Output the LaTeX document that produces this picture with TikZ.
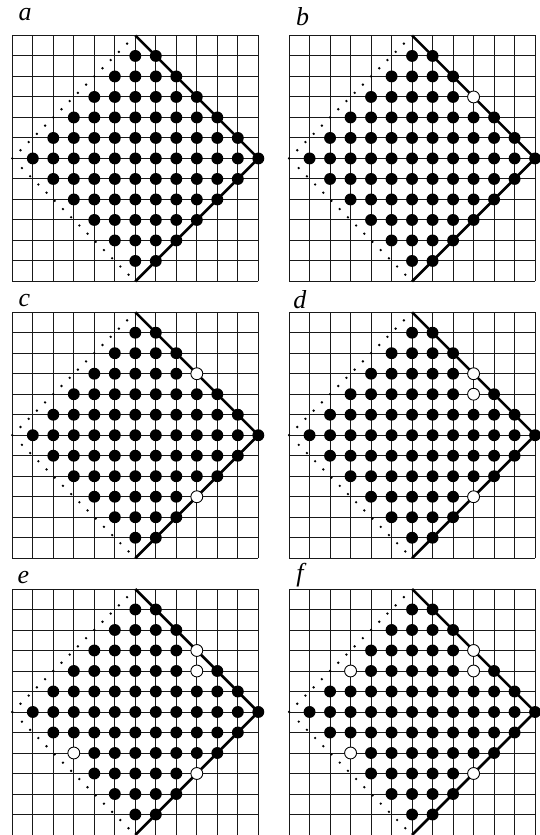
\documentclass[tikz,border=0pt]{standalone}
\usepackage{fontspec}
\setmainfont{Liberation Serif}
\begin{document}
\begin{tikzpicture}[
  x=0.5cm,y=0.5cm,
  gridline/.style={draw=black!90,line width=0.65pt},
  edge/.style={draw=black,line width=1.8pt},
  hole/.style={draw=black,fill=white,line width=0.6pt},
  lab/.style={font=\fontsize{18}{20}\selectfont\itshape,anchor=base west,inner sep=0pt},
  lattice/.pic={
    \draw[gridline,step=1] (0,0) grid (12,12);
    \foreach \k in {1,...,14}
      \fill (6-0.4*\k,12-0.4*\k) circle (0.032cm)
            (0.4*\k+0.07,5.93-0.4*\k) circle (0.032cm);
    \fill (0,6) circle (0.032cm);
    \draw[edge] (6,12) -- (12,6) -- (6,0);
    \foreach \y in {1,...,11} {
      \pgfmathtruncatemacro\lo{1+abs(\y-6)}
      \pgfmathtruncatemacro\hi{12-abs(\y-6)}
      \foreach \x in {\lo,...,\hi}
        \fill (\x,\y) circle (0.145cm);
    }
  },
]
\useasboundingbox (0,0) rectangle (26.34,40.73);

% top row
\begin{scope}[shift={(0.6,27)}]
  \pic {lattice};
  \node[lab] (la) at (0.29,12.73) {a};
\end{scope}
\begin{scope}[shift={(14.1,27)}]
  \pic {lattice};
  \node[lab] (lb) at (0.33,12.47) {b};
  \filldraw[hole] (9,9) circle (0.145cm);
\end{scope}

% middle row
\begin{scope}[shift={(0.6,13.5)}]
  \pic {lattice};
  \node[lab] (lc) at (0.29,12.29) {c};
  \filldraw[hole] (9,9) circle (0.145cm) (9,3) circle (0.145cm);
\end{scope}
\begin{scope}[shift={(14.1,13.5)}]
  \pic {lattice};
  \node[lab] (ld) at (0.2,12.18) {d};
  \filldraw[hole] (9,9) circle (0.145cm) (9,8) circle (0.145cm)
    (9,3) circle (0.145cm);
\end{scope}

% bottom row
\begin{scope}[shift={(0.6,0)}]
  \pic {lattice};
  \node[lab] (le) at (0.24,12.26) {e};
  \filldraw[hole] (9,9) circle (0.145cm) (9,8) circle (0.145cm)
    (9,3) circle (0.145cm) (3,4) circle (0.145cm);
\end{scope}
\begin{scope}[shift={(14.1,0)}]
  \pic {lattice};
  \node[lab] (lf) at (0.34,12.36) {f};
  \filldraw[hole] (9,9) circle (0.145cm) (9,8) circle (0.145cm)
    (9,3) circle (0.145cm) (3,4) circle (0.145cm) (3,8) circle (0.145cm);
\end{scope}
\end{tikzpicture}
\end{document}
